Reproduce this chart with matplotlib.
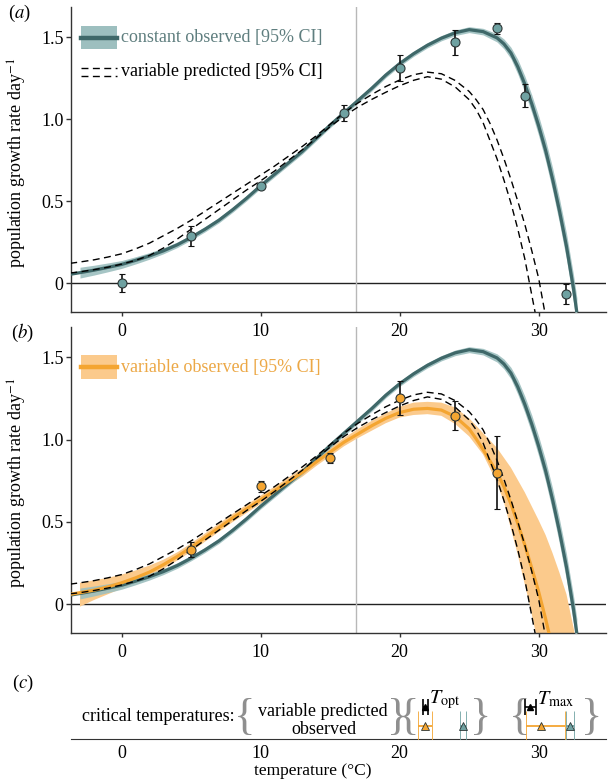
import numpy as np
import matplotlib.pyplot as plt
from matplotlib.patches import Rectangle
from matplotlib.lines import Line2D

plt.rcParams['font.family'] = ['Liberation Serif', 'DejaVu Serif']
plt.rcParams['mathtext.fontset'] = 'stix'
plt.rcParams['font.size'] = 13

TEAL = '#3f6869'
TEAL_BAND = '#9dbfbf'
TEAL_PT = '#6fa2a2'
TEAL_TXT = '#5f7e7f'
ORANGE = '#f4a531'
ORANGE_BAND = '#fbca8c'
ORANGE_TXT = '#eca846'
EDGE = '#2c3535'

# observed growth rates (points with error bars)
const_temp = [0, 5, 10, 16, 20, 24, 27, 29, 32]
const_rate = [0.0, 0.29, 0.595, 1.04, 1.315, 1.47, 1.555, 1.145, -0.065]
const_err = [0.055, 0.06, 0.012, 0.05, 0.08, 0.075, 0.035, 0.07, 0.06]

var_temp = [5, 10, 15, 20, 24, 27]
var_rate = [0.332, 0.716, 0.886, 1.253, 1.146, 0.80]
var_err = [0.045, 0.035, 0.03, 0.106, 0.09, 0.22]

mean_temp = 16.83

# constant observed fit + 95% CI half width
const_t = [-3.7, -3, -2, -1, 0, 1, 2, 3, 4, 5, 6, 7, 8, 9, 10, 11, 12, 13, 14, 15,
           16, 17, 18, 19, 20, 21, 22, 23, 24, 25, 26, 27, 27.5, 28, 28.5, 29, 29.5,
           30, 30.5, 31, 31.5, 32, 32.5, 32.75]
const_fit = [0.055, 0.065, 0.08, 0.097, 0.115, 0.14, 0.167, 0.198, 0.235, 0.28, 0.33,
             0.385, 0.45, 0.52, 0.595, 0.665, 0.735, 0.805, 0.885, 0.965, 1.04, 1.115,
             1.19, 1.27, 1.34, 1.40, 1.452, 1.495, 1.528, 1.547, 1.535, 1.497, 1.46,
             1.405, 1.32, 1.215, 1.095, 0.96, 0.81, 0.635, 0.44, 0.225, -0.03, -0.18]
const_half = [0.035, 0.033, 0.03, 0.027, 0.024, 0.022, 0.02, 0.018, 0.017, 0.016, 0.016,
              0.016, 0.016, 0.016, 0.016, 0.016, 0.016, 0.016, 0.016, 0.016, 0.016, 0.016,
              0.016, 0.016, 0.016, 0.016, 0.016, 0.016, 0.017, 0.018, 0.02, 0.025, 0.03,
              0.035, 0.045, 0.05, 0.055, 0.06, 0.065, 0.07, 0.075, 0.08, 0.085, 0.09]

# variable predicted 95% CI (upper / lower dashed)
pred_hi_t = [-3.7, -3, -2, -1, 0, 1, 2, 3, 4, 5, 6, 7, 8, 9, 10, 11, 12, 13, 14, 15,
             16, 17, 18, 19, 20, 21, 22, 23, 24, 25, 25.5, 26, 26.5, 27, 27.5, 28, 28.5,
             29, 29.5, 30, 30.45]
pred_hi = [0.122, 0.13, 0.143, 0.16, 0.18, 0.21, 0.245, 0.29, 0.335, 0.385, 0.44, 0.495,
           0.55, 0.605, 0.66, 0.715, 0.775, 0.835, 0.9, 0.97, 1.04, 1.1, 1.152, 1.2, 1.24,
           1.272, 1.288, 1.278, 1.237, 1.17, 1.12, 1.06, 0.975, 0.875, 0.76, 0.635, 0.5,
           0.36, 0.2, 0.03, -0.18]
pred_lo_t = [-3.7, -3, -2, -1, 0, 1, 2, 3, 4, 5, 6, 7, 8, 9, 10, 11, 12, 13, 14, 15,
             16, 17, 18, 19, 20, 21, 22, 23, 24, 25, 25.5, 26, 26.5, 27, 27.5, 28, 28.5,
             29, 29.5, 29.75]
pred_lo = [0.063, 0.07, 0.083, 0.098, 0.117, 0.14, 0.17, 0.215, 0.27, 0.33, 0.39, 0.45,
           0.51, 0.57, 0.625, 0.685, 0.75, 0.815, 0.885, 0.955, 1.02, 1.075, 1.122, 1.165,
           1.205, 1.238, 1.26, 1.245, 1.197, 1.12, 1.06, 0.98, 0.87, 0.76, 0.63, 0.49,
           0.33, 0.15, -0.07, -0.18]

# variable observed fit and its 95% CI edges
varobs_t = [-3.7, -3, -2, -1, 0, 1, 2, 3, 4, 5, 6, 7, 8, 9, 10, 11, 12, 13, 14, 15,
            16, 17, 18, 19, 20, 21, 22, 23, 24, 25, 25.5, 26, 26.5, 27, 27.5, 28, 28.5,
            29, 29.5, 30, 30.5, 30.75]
varobs_fit = [0.06, 0.07, 0.085, 0.105, 0.13, 0.16, 0.195, 0.24, 0.29, 0.345, 0.405,
              0.465, 0.525, 0.58, 0.635, 0.69, 0.745, 0.8, 0.865, 0.925, 0.985, 1.035,
              1.085, 1.13, 1.165, 1.185, 1.19, 1.18, 1.14, 1.065, 1.005, 0.94, 0.87, 0.8,
              0.715, 0.61, 0.49, 0.36, 0.22, 0.075, -0.09, -0.18]
varobs_lo_t = [-3, -2, -1, 0, 1, 2, 3, 4, 5, 6, 7, 8, 9, 10, 11, 12, 13, 14, 15, 16, 17,
               18, 19, 20, 21, 22, 23, 24, 25, 26, 27, 27.5, 28, 28.5, 29, 29.35, 29.8]
varobs_lo = [-0.015, 0.025, 0.06, 0.095, 0.13, 0.17, 0.215, 0.265, 0.32, 0.38, 0.44, 0.5,
             0.555, 0.61, 0.665, 0.72, 0.775, 0.84, 0.9, 0.96, 1.01, 1.055, 1.1, 1.135,
             1.15, 1.155, 1.145, 1.095, 1.02, 0.91, 0.74, 0.62, 0.46, 0.3, 0.12, 0.0, -0.18]
varobs_hi_t = [-3, -2, -1, 0, 1, 2, 3, 4, 5, 6, 7, 8, 9, 10, 11, 12, 13, 14, 15, 16, 17,
               18, 19, 20, 21, 22, 23, 24, 25, 26, 27, 28, 29, 30, 30.5, 31, 31.5, 32, 32.6]
varobs_hi = [0.13, 0.145, 0.16, 0.18, 0.205, 0.235, 0.27, 0.315, 0.37, 0.43, 0.49, 0.55,
             0.605, 0.66, 0.715, 0.77, 0.825, 0.89, 0.95, 1.01, 1.065, 1.115, 1.16, 1.2,
             1.225, 1.23, 1.225, 1.195, 1.13, 1.04, 0.95, 0.83, 0.68, 0.51, 0.42, 0.31,
             0.19, 0.06, -0.18]

# critical temperatures (panel c): [T_opt, T_max]
crit_labels = [r'$T_{\mathrm{opt}}$', r'$T_{\mathrm{max}}$']
pred_crit = [21.85, 29.4]
pred_crit_lo = [21.66, 29.0]
pred_crit_hi = [22.05, 29.8]
varobs_crit = [21.8, 30.15]
varobs_crit_lo = [21.35, 29.1]
varobs_crit_hi = [22.33, 31.9]
const_crit = [24.52, 32.25]
const_crit_lo = [24.33, 31.97]
const_crit_hi = [24.8, 32.53]

XLIM = (-3.67, 34.84)
YLIM = (-0.175, 1.685)


def style_axes(ax):
    ax.set_xlim(*XLIM)
    ax.set_ylim(*YLIM)
    ax.patch.set_visible(False)
    for s in ['top', 'right']:
        ax.spines[s].set_visible(False)
    for s in ['left', 'bottom']:
        ax.spines[s].set_color('#333333')
        ax.spines[s].set_linewidth(1.0)
    ax.set_xticks([0, 10, 20, 30])
    ax.set_yticks([0, 0.5, 1.0, 1.5])
    ax.set_yticklabels(['0', '0.5', '1.0', '1.5'])
    ax.tick_params(axis='y', length=3.5, width=1, pad=1.5, color='#333333')
    ax.tick_params(axis='x', length=3, width=1, pad=5, color='#333333')
    ax.axhline(0, color='#222222', lw=1.0, zorder=1)
    ax.axvline(mean_temp, color='#b8b8b8', lw=1.0, zorder=1)
    ax.set_ylabel('population growth rate day$^{-1}$')
    ax.yaxis.set_label_coords(-0.078, 0.49)


def draw_const(ax):
    t = np.array(const_t)
    f = np.array(const_fit)
    h = np.array(const_half)
    ax.fill_between(t[1:], (f - h)[1:], (f + h)[1:], color=TEAL_BAND, lw=0,
                    alpha=0.9, zorder=3)
    ax.plot(t, f, color=TEAL, lw=2.3, zorder=4)


def draw_pred(ax):
    ax.plot(pred_hi_t, pred_hi, color='black', lw=1.0, dashes=(5, 3.2), zorder=5)
    ax.plot(pred_lo_t, pred_lo, color='black', lw=1.0, dashes=(5, 3.2), zorder=5)


fig = plt.figure(figsize=(6.14, 7.8), dpi=100)
ax_c = fig.add_axes([0.1151, 0.0526, 0.8718, 0.1013])
ax_b = fig.add_axes([0.1151, 0.1885, 0.8718, 0.3923])
ax_a = fig.add_axes([0.1151, 0.600, 0.8718, 0.391])

# ---- panel a
style_axes(ax_a)
draw_const(ax_a)
draw_pred(ax_a)
ax_a.errorbar(const_temp, const_rate, yerr=const_err, fmt='o', ms=6.5, mfc=TEAL_PT,
              mec=EDGE, mew=0.8, ecolor='#111111', elinewidth=1.2, capsize=2.5,
              capthick=1.0, zorder=6)

# legend drawn by hand
ax_a.add_patch(Rectangle((0.019, 0.862), 0.068, 0.076, transform=ax_a.transAxes,
                         color=TEAL_BAND, lw=0))
ax_a.add_line(Line2D([0.019, 0.087], [0.900, 0.900], transform=ax_a.transAxes,
                     color=TEAL, lw=3.2))
ax_a.text(0.094, 0.900, 'constant observed [95% CI]', transform=ax_a.transAxes,
          va='center', ha='left', color=TEAL_TXT)
for yy in [0.801, 0.774]:
    ax_a.add_line(Line2D([0.019, 0.087], [yy, yy], transform=ax_a.transAxes,
                         color='black', lw=1.0, dashes=(5, 3.2)))
ax_a.text(0.094, 0.788, 'variable predicted [95% CI]', transform=ax_a.transAxes,
          va='center', ha='left', color='black')

# ---- panel b
style_axes(ax_b)
ax_b.fill(varobs_lo_t + varobs_hi_t[::-1], varobs_lo + varobs_hi[::-1],
          color=ORANGE_BAND, lw=0, zorder=2)
draw_const(ax_b)
ax_b.plot(varobs_t, varobs_fit, color=ORANGE, lw=2.3, zorder=4.5)
draw_pred(ax_b)
ax_b.errorbar(var_temp, var_rate, yerr=var_err, fmt='o', ms=6.5, mfc=ORANGE,
              mec=EDGE, mew=0.8, ecolor='#111111', elinewidth=1.2, capsize=2.5,
              capthick=1.0, zorder=6)
ax_b.add_patch(Rectangle((0.019, 0.829), 0.068, 0.078, transform=ax_b.transAxes,
                         color=ORANGE_BAND, lw=0))
ax_b.add_line(Line2D([0.019, 0.087], [0.868, 0.868], transform=ax_b.transAxes,
                     color=ORANGE, lw=3.2))
ax_b.text(0.094, 0.868, 'variable observed [95% CI]', transform=ax_b.transAxes,
          va='center', ha='left', color=ORANGE_TXT)

# ---- panel c
ax_c.set_xlim(*XLIM)
ax_c.set_ylim(0, 1)
ax_c.patch.set_visible(False)
for s in ['top', 'right', 'left']:
    ax_c.spines[s].set_visible(False)
ax_c.spines['bottom'].set_color('#333333')
ax_c.set_yticks([])
ax_c.set_xticks([0, 10, 20, 30])
ax_c.tick_params(axis='x', length=0, pad=4.5)
ax_c.set_xlabel('temperature (°C)', fontsize=12.5)
ax_c.xaxis.set_label_coords(0.453, -0.30)

ax_c.text(8.15, 0.29, 'critical temperatures:', ha='right', va='center')
ax_c.text(14.5, 0.35, 'variable predicted', ha='center', va='center')
ax_c.text(14.55, 0.12, 'observed', ha='center', va='center')
for bx, ch in [(8.85, '{'), (19.85, '}'), (20.65, '{'), (25.8, '}'), (28.6, '{'), (33.8, '}')]:
    ax_c.text(bx, 0.27, ch, ha='center', va='center', fontsize=32, color='#8f8f8f')

for i in range(2):
    ax_c.errorbar([pred_crit[i]], [0.405],
                  xerr=[[pred_crit[i] - pred_crit_lo[i]], [pred_crit_hi[i] - pred_crit[i]]],
                  fmt='^', ms=5, mfc='black', mec='black', ecolor='black',
                  elinewidth=1.2, capsize=6, capthick=1.2, zorder=5)
    ax_c.errorbar([varobs_crit[i]], [0.165],
                  xerr=[[varobs_crit[i] - varobs_crit_lo[i]],
                        [varobs_crit_hi[i] - varobs_crit[i]]],
                  fmt='^', ms=5.5, mfc=ORANGE, mec=EDGE, mew=0.6, ecolor=ORANGE,
                  elinewidth=1.3, capsize=11, capthick=1.3, zorder=5)
    ax_c.errorbar([const_crit[i]], [0.165],
                  xerr=[[const_crit[i] - const_crit_lo[i]],
                        [const_crit_hi[i] - const_crit[i]]],
                  fmt='^', ms=5.5, mfc=TEAL_PT, mec=EDGE, mew=0.6, ecolor=TEAL_PT,
                  elinewidth=1.3, capsize=11, capthick=1.3, zorder=5)
ax_c.text(22.1, 0.5, crit_labels[0], ha='left', va='center', fontsize=14.5)
ax_c.text(29.9, 0.5, crit_labels[1], ha='left', va='center', fontsize=14.5)

# panel letters
fig.text(0.031, 0.983, '($a$)', ha='center', va='center', fontsize=13.5)
fig.text(0.036, 0.573, '($b$)', ha='center', va='center', fontsize=13.5)
fig.text(0.038, 0.124, '($c$)', ha='center', va='center', fontsize=13.5)

fig.savefig('out.png', dpi=100)
